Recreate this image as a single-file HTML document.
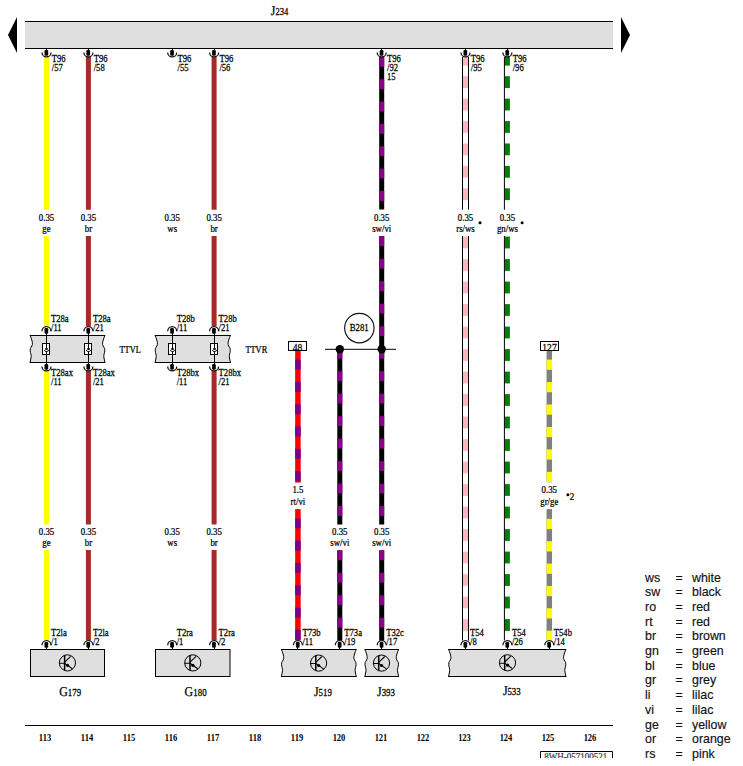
<!DOCTYPE html>
<html><head><meta charset="utf-8"><style>
html,body{margin:0;padding:0;background:#fff;width:743px;height:766px;overflow:hidden;}
svg{display:block;}
</style></head><body>
<svg width="743" height="766" viewBox="0 0 743 766">
<text transform="translate(270.7 15) scale(0.88 1)" x="0" y="0" font-family='"Liberation Serif", serif' font-size="13.3" text-anchor="start" font-weight="normal" fill="#000" stroke="#000" stroke-width="0.25" text-rendering="geometricPrecision">J</text>
<text transform="translate(275.4 15) scale(0.86 1)" x="0" y="0" font-family='"Liberation Serif", serif' font-size="10" text-anchor="start" font-weight="normal" fill="#000" stroke="#000" stroke-width="0.25" >234</text>
<rect x="25" y="21" width="588" height="28" fill="#dfdfdf"/>
<rect x="25" y="21" width="588" height="1" fill="#000"/>
<rect x="25" y="48" width="588" height="1" fill="#000"/>
<polygon points="17,17 17,53 8,35" fill="#000"/>
<polygon points="621,17 621,53 630,35" fill="#000"/>
<rect x="44.0" y="57" width="5" height="152.7" fill="#ffff00"/>
<rect x="44.0" y="236" width="5" height="90.5" fill="#ffff00"/>
<rect x="44.0" y="371" width="5" height="153.5" fill="#ffff00"/>
<rect x="44.0" y="550" width="5" height="90.5" fill="#ffff00"/>
<rect x="85.9" y="57" width="5" height="152.7" fill="#a52a2a"/>
<rect x="85.9" y="236" width="5" height="90.5" fill="#a52a2a"/>
<rect x="85.9" y="371" width="5" height="153.5" fill="#a52a2a"/>
<rect x="85.9" y="550" width="5" height="90.5" fill="#a52a2a"/>
<rect x="211.6" y="57" width="5" height="152.7" fill="#a52a2a"/>
<rect x="211.6" y="236" width="5" height="90.5" fill="#a52a2a"/>
<rect x="211.6" y="371" width="5" height="153.5" fill="#a52a2a"/>
<rect x="211.6" y="550" width="5" height="90.5" fill="#a52a2a"/>
<rect x="295.15" y="350.7" width="5.5" height="131.90000000000003" fill="#ff0000"/>
<rect x="295.15" y="359.60" width="5.5" height="10.00" fill="#78008a"/>
<rect x="295.15" y="381.90" width="5.5" height="10.00" fill="#78008a"/>
<rect x="295.15" y="404.20" width="5.5" height="10.00" fill="#78008a"/>
<rect x="295.15" y="426.50" width="5.5" height="10.00" fill="#78008a"/>
<rect x="295.15" y="448.80" width="5.5" height="10.00" fill="#78008a"/>
<rect x="295.15" y="471.10" width="5.5" height="10.00" fill="#78008a"/>
<rect x="295.15" y="509.1" width="5.5" height="131.39999999999998" fill="#ff0000"/>
<rect x="295.15" y="518.30" width="5.5" height="10.00" fill="#78008a"/>
<rect x="295.15" y="540.60" width="5.5" height="10.00" fill="#78008a"/>
<rect x="295.15" y="562.90" width="5.5" height="10.00" fill="#78008a"/>
<rect x="295.15" y="585.20" width="5.5" height="10.00" fill="#78008a"/>
<rect x="295.15" y="607.50" width="5.5" height="10.00" fill="#78008a"/>
<rect x="295.15" y="629.80" width="5.5" height="10.00" fill="#78008a"/>
<rect x="337.3" y="349" width="5" height="175.5" fill="#000"/>
<rect x="337.3" y="349.00" width="5" height="9.60" fill="#8b008b"/>
<rect x="337.3" y="371.18" width="5" height="9.90" fill="#8b008b"/>
<rect x="337.3" y="393.66" width="5" height="9.90" fill="#8b008b"/>
<rect x="337.3" y="416.14" width="5" height="9.90" fill="#8b008b"/>
<rect x="337.3" y="438.62" width="5" height="9.90" fill="#8b008b"/>
<rect x="337.3" y="461.10" width="5" height="9.90" fill="#8b008b"/>
<rect x="337.3" y="483.58" width="5" height="9.90" fill="#8b008b"/>
<rect x="337.3" y="506.06" width="5" height="9.90" fill="#8b008b"/>
<rect x="337.3" y="550.3" width="5" height="90.20000000000005" fill="#000"/>
<rect x="337.3" y="550.30" width="5" height="9.90" fill="#8b008b"/>
<rect x="337.3" y="572.78" width="5" height="9.90" fill="#8b008b"/>
<rect x="337.3" y="595.26" width="5" height="9.90" fill="#8b008b"/>
<rect x="337.3" y="617.74" width="5" height="9.90" fill="#8b008b"/>
<rect x="337.3" y="640.22" width="5" height="0.28" fill="#8b008b"/>
<rect x="379.2" y="57" width="5" height="152.5" fill="#000"/>
<rect x="379.2" y="57.00" width="5" height="9.80" fill="#8b008b"/>
<rect x="379.2" y="79.24" width="5" height="9.90" fill="#8b008b"/>
<rect x="379.2" y="101.58" width="5" height="9.90" fill="#8b008b"/>
<rect x="379.2" y="123.92" width="5" height="9.90" fill="#8b008b"/>
<rect x="379.2" y="146.26" width="5" height="9.90" fill="#8b008b"/>
<rect x="379.2" y="168.60" width="5" height="9.90" fill="#8b008b"/>
<rect x="379.2" y="190.94" width="5" height="9.90" fill="#8b008b"/>
<rect x="379.2" y="236.2" width="5" height="288.3" fill="#000"/>
<rect x="379.2" y="236.30" width="5" height="9.90" fill="#8b008b"/>
<rect x="379.2" y="258.78" width="5" height="9.90" fill="#8b008b"/>
<rect x="379.2" y="281.26" width="5" height="9.90" fill="#8b008b"/>
<rect x="379.2" y="303.74" width="5" height="9.90" fill="#8b008b"/>
<rect x="379.2" y="326.22" width="5" height="9.90" fill="#8b008b"/>
<rect x="379.2" y="348.70" width="5" height="9.90" fill="#8b008b"/>
<rect x="379.2" y="371.18" width="5" height="9.90" fill="#8b008b"/>
<rect x="379.2" y="393.66" width="5" height="9.90" fill="#8b008b"/>
<rect x="379.2" y="416.14" width="5" height="9.90" fill="#8b008b"/>
<rect x="379.2" y="438.62" width="5" height="9.90" fill="#8b008b"/>
<rect x="379.2" y="461.10" width="5" height="9.90" fill="#8b008b"/>
<rect x="379.2" y="483.58" width="5" height="9.90" fill="#8b008b"/>
<rect x="379.2" y="506.06" width="5" height="9.90" fill="#8b008b"/>
<rect x="379.2" y="550.3" width="5" height="90.20000000000005" fill="#000"/>
<rect x="379.2" y="550.30" width="5" height="9.90" fill="#8b008b"/>
<rect x="379.2" y="572.78" width="5" height="9.90" fill="#8b008b"/>
<rect x="379.2" y="595.26" width="5" height="9.90" fill="#8b008b"/>
<rect x="379.2" y="617.74" width="5" height="9.90" fill="#8b008b"/>
<rect x="379.2" y="640.22" width="5" height="0.28" fill="#8b008b"/>
<rect x="463.0" y="57.00" width="5" height="8.60" fill="#ffb6c1"/>
<rect x="463.0" y="76.22" width="5" height="11.80" fill="#ffb6c1"/>
<rect x="463.0" y="98.64" width="5" height="11.80" fill="#ffb6c1"/>
<rect x="463.0" y="121.06" width="5" height="11.80" fill="#ffb6c1"/>
<rect x="463.0" y="143.48" width="5" height="11.80" fill="#ffb6c1"/>
<rect x="463.0" y="165.90" width="5" height="11.80" fill="#ffb6c1"/>
<rect x="463.0" y="188.32" width="5" height="11.80" fill="#ffb6c1"/>
<rect x="463.0" y="236.60" width="5" height="11.80" fill="#ffb6c1"/>
<rect x="463.0" y="259.10" width="5" height="11.80" fill="#ffb6c1"/>
<rect x="463.0" y="281.60" width="5" height="11.80" fill="#ffb6c1"/>
<rect x="463.0" y="304.10" width="5" height="11.80" fill="#ffb6c1"/>
<rect x="463.0" y="326.60" width="5" height="11.80" fill="#ffb6c1"/>
<rect x="463.0" y="349.10" width="5" height="11.80" fill="#ffb6c1"/>
<rect x="463.0" y="371.60" width="5" height="11.80" fill="#ffb6c1"/>
<rect x="463.0" y="394.10" width="5" height="11.80" fill="#ffb6c1"/>
<rect x="463.0" y="416.60" width="5" height="11.80" fill="#ffb6c1"/>
<rect x="463.0" y="439.10" width="5" height="11.80" fill="#ffb6c1"/>
<rect x="463.0" y="461.60" width="5" height="11.80" fill="#ffb6c1"/>
<rect x="463.0" y="484.10" width="5" height="11.80" fill="#ffb6c1"/>
<rect x="463.0" y="506.60" width="5" height="11.80" fill="#ffb6c1"/>
<rect x="463.0" y="529.10" width="5" height="11.80" fill="#ffb6c1"/>
<rect x="463.0" y="551.60" width="5" height="11.80" fill="#ffb6c1"/>
<rect x="463.0" y="574.10" width="5" height="11.80" fill="#ffb6c1"/>
<rect x="463.0" y="596.60" width="5" height="11.80" fill="#ffb6c1"/>
<rect x="463.0" y="619.10" width="5" height="11.80" fill="#ffb6c1"/>
<rect x="462.0" y="57" width="1" height="152.7" fill="#000"/>
<rect x="468.0" y="57" width="1" height="152.7" fill="#000"/>
<rect x="462.0" y="236" width="1" height="404.5" fill="#000"/>
<rect x="468.0" y="236" width="1" height="404.5" fill="#000"/>
<rect x="504.9" y="57.00" width="5" height="8.60" fill="#008000"/>
<rect x="504.9" y="76.22" width="5" height="11.80" fill="#008000"/>
<rect x="504.9" y="98.64" width="5" height="11.80" fill="#008000"/>
<rect x="504.9" y="121.06" width="5" height="11.80" fill="#008000"/>
<rect x="504.9" y="143.48" width="5" height="11.80" fill="#008000"/>
<rect x="504.9" y="165.90" width="5" height="11.80" fill="#008000"/>
<rect x="504.9" y="188.32" width="5" height="11.80" fill="#008000"/>
<rect x="504.9" y="236.60" width="5" height="11.80" fill="#008000"/>
<rect x="504.9" y="259.10" width="5" height="11.80" fill="#008000"/>
<rect x="504.9" y="281.60" width="5" height="11.80" fill="#008000"/>
<rect x="504.9" y="304.10" width="5" height="11.80" fill="#008000"/>
<rect x="504.9" y="326.60" width="5" height="11.80" fill="#008000"/>
<rect x="504.9" y="349.10" width="5" height="11.80" fill="#008000"/>
<rect x="504.9" y="371.60" width="5" height="11.80" fill="#008000"/>
<rect x="504.9" y="394.10" width="5" height="11.80" fill="#008000"/>
<rect x="504.9" y="416.60" width="5" height="11.80" fill="#008000"/>
<rect x="504.9" y="439.10" width="5" height="11.80" fill="#008000"/>
<rect x="504.9" y="461.60" width="5" height="11.80" fill="#008000"/>
<rect x="504.9" y="484.10" width="5" height="11.80" fill="#008000"/>
<rect x="504.9" y="506.60" width="5" height="11.80" fill="#008000"/>
<rect x="504.9" y="529.10" width="5" height="11.80" fill="#008000"/>
<rect x="504.9" y="551.60" width="5" height="11.80" fill="#008000"/>
<rect x="504.9" y="574.10" width="5" height="11.80" fill="#008000"/>
<rect x="504.9" y="596.60" width="5" height="11.80" fill="#008000"/>
<rect x="504.9" y="619.10" width="5" height="11.80" fill="#008000"/>
<rect x="503.9" y="57" width="1" height="152.7" fill="#000"/>
<rect x="503.9" y="236" width="1" height="404.5" fill="#000"/>
<rect x="546.55" y="350.5" width="5.5" height="131.8" fill="#808080"/>
<rect x="546.55" y="359.60" width="5.5" height="10.20" fill="#ffff00"/>
<rect x="546.55" y="382.05" width="5.5" height="10.20" fill="#ffff00"/>
<rect x="546.55" y="404.50" width="5.5" height="10.20" fill="#ffff00"/>
<rect x="546.55" y="426.95" width="5.5" height="10.20" fill="#ffff00"/>
<rect x="546.55" y="449.40" width="5.5" height="10.20" fill="#ffff00"/>
<rect x="546.55" y="471.85" width="5.5" height="10.20" fill="#ffff00"/>
<rect x="546.55" y="509.1" width="5.5" height="131.39999999999998" fill="#808080"/>
<rect x="546.55" y="518.90" width="5.5" height="10.20" fill="#ffff00"/>
<rect x="546.55" y="541.25" width="5.5" height="10.20" fill="#ffff00"/>
<rect x="546.55" y="563.60" width="5.5" height="10.20" fill="#ffff00"/>
<rect x="546.55" y="585.95" width="5.5" height="10.20" fill="#ffff00"/>
<rect x="546.55" y="608.30" width="5.5" height="10.20" fill="#ffff00"/>
<rect x="546.55" y="630.65" width="5.5" height="9.85" fill="#ffff00"/>
<rect x="46" y="49" width="1" height="2" fill="#000"/>
<rect x="44.5" y="50" width="3.7" height="5.8" rx="1.2" fill="#000"/>
<path d="M42.0,52.4 A4.5,4.5 0 0 0 51.0,52.4" fill="none" stroke="#111" stroke-width="1.3"/>
<rect x="88" y="49" width="1" height="2" fill="#000"/>
<rect x="86.4" y="50" width="3.7" height="5.8" rx="1.2" fill="#000"/>
<path d="M83.9,52.4 A4.5,4.5 0 0 0 92.9,52.4" fill="none" stroke="#111" stroke-width="1.3"/>
<rect x="172" y="49" width="1" height="2" fill="#000"/>
<rect x="170.2" y="50" width="3.7" height="5.8" rx="1.2" fill="#000"/>
<path d="M167.7,52.4 A4.5,4.5 0 0 0 176.7,52.4" fill="none" stroke="#111" stroke-width="1.3"/>
<rect x="214" y="49" width="1" height="2" fill="#000"/>
<rect x="212.1" y="50" width="3.7" height="5.8" rx="1.2" fill="#000"/>
<path d="M209.6,52.4 A4.5,4.5 0 0 0 218.6,52.4" fill="none" stroke="#111" stroke-width="1.3"/>
<rect x="381" y="49" width="1" height="2" fill="#000"/>
<rect x="379.7" y="50" width="3.7" height="5.8" rx="1.2" fill="#000"/>
<path d="M377.2,52.4 A4.5,4.5 0 0 0 386.2,52.4" fill="none" stroke="#111" stroke-width="1.3"/>
<rect x="465" y="49" width="1" height="2" fill="#000"/>
<rect x="463.5" y="50" width="3.7" height="5.8" rx="1.2" fill="#000"/>
<path d="M461.0,52.4 A4.5,4.5 0 0 0 470.0,52.4" fill="none" stroke="#111" stroke-width="1.3"/>
<rect x="507" y="49" width="1" height="2" fill="#000"/>
<rect x="505.4" y="50" width="3.7" height="5.8" rx="1.2" fill="#000"/>
<path d="M502.9,52.4 A4.5,4.5 0 0 0 511.9,52.4" fill="none" stroke="#111" stroke-width="1.3"/>
<text transform="translate(51.8 62.0) scale(0.82 1)" x="0" y="0" font-family='"Liberation Serif", serif' font-size="10.5" text-anchor="start" font-weight="normal" fill="#000" stroke="#000" stroke-width="0.25" >T96</text>
<text transform="translate(51.8 70.8) scale(0.82 1)" x="0" y="0" font-family='"Liberation Serif", serif' font-size="10.5" text-anchor="start" font-weight="normal" fill="#000" stroke="#000" stroke-width="0.25" >/57</text>
<text transform="translate(93.7 62.0) scale(0.82 1)" x="0" y="0" font-family='"Liberation Serif", serif' font-size="10.5" text-anchor="start" font-weight="normal" fill="#000" stroke="#000" stroke-width="0.25" >T96</text>
<text transform="translate(93.7 70.8) scale(0.82 1)" x="0" y="0" font-family='"Liberation Serif", serif' font-size="10.5" text-anchor="start" font-weight="normal" fill="#000" stroke="#000" stroke-width="0.25" >/58</text>
<text transform="translate(177.5 62.0) scale(0.82 1)" x="0" y="0" font-family='"Liberation Serif", serif' font-size="10.5" text-anchor="start" font-weight="normal" fill="#000" stroke="#000" stroke-width="0.25" >T96</text>
<text transform="translate(177.5 70.8) scale(0.82 1)" x="0" y="0" font-family='"Liberation Serif", serif' font-size="10.5" text-anchor="start" font-weight="normal" fill="#000" stroke="#000" stroke-width="0.25" >/55</text>
<text transform="translate(219.4 62.0) scale(0.82 1)" x="0" y="0" font-family='"Liberation Serif", serif' font-size="10.5" text-anchor="start" font-weight="normal" fill="#000" stroke="#000" stroke-width="0.25" >T96</text>
<text transform="translate(219.4 70.8) scale(0.82 1)" x="0" y="0" font-family='"Liberation Serif", serif' font-size="10.5" text-anchor="start" font-weight="normal" fill="#000" stroke="#000" stroke-width="0.25" >/56</text>
<text transform="translate(387.0 62.0) scale(0.82 1)" x="0" y="0" font-family='"Liberation Serif", serif' font-size="10.5" text-anchor="start" font-weight="normal" fill="#000" stroke="#000" stroke-width="0.25" >T96</text>
<text transform="translate(387.0 70.8) scale(0.82 1)" x="0" y="0" font-family='"Liberation Serif", serif' font-size="10.5" text-anchor="start" font-weight="normal" fill="#000" stroke="#000" stroke-width="0.25" >/92</text>
<text transform="translate(387.0 79.6) scale(0.82 1)" x="0" y="0" font-family='"Liberation Serif", serif' font-size="10.5" text-anchor="start" font-weight="normal" fill="#000" stroke="#000" stroke-width="0.25" >15</text>
<text transform="translate(470.8 62.0) scale(0.82 1)" x="0" y="0" font-family='"Liberation Serif", serif' font-size="10.5" text-anchor="start" font-weight="normal" fill="#000" stroke="#000" stroke-width="0.25" >T96</text>
<text transform="translate(470.8 70.8) scale(0.82 1)" x="0" y="0" font-family='"Liberation Serif", serif' font-size="10.5" text-anchor="start" font-weight="normal" fill="#000" stroke="#000" stroke-width="0.25" >/95</text>
<text transform="translate(512.6999999999999 62.0) scale(0.82 1)" x="0" y="0" font-family='"Liberation Serif", serif' font-size="10.5" text-anchor="start" font-weight="normal" fill="#000" stroke="#000" stroke-width="0.25" >T96</text>
<text transform="translate(512.6999999999999 70.8) scale(0.82 1)" x="0" y="0" font-family='"Liberation Serif", serif' font-size="10.5" text-anchor="start" font-weight="normal" fill="#000" stroke="#000" stroke-width="0.25" >/96</text>
<text transform="translate(46.5 220.8) scale(0.88 1)" x="0" y="0" font-family='"Liberation Serif", serif' font-size="10" text-anchor="middle" font-weight="normal" fill="#000" stroke="#000" stroke-width="0.25" >0.35</text>
<text transform="translate(46.5 231.8) scale(0.88 1)" x="0" y="0" font-family='"Liberation Serif", serif' font-size="10" text-anchor="middle" font-weight="normal" fill="#000" stroke="#000" stroke-width="0.25" >ge</text>
<text transform="translate(88.4 220.8) scale(0.88 1)" x="0" y="0" font-family='"Liberation Serif", serif' font-size="10" text-anchor="middle" font-weight="normal" fill="#000" stroke="#000" stroke-width="0.25" >0.35</text>
<text transform="translate(88.4 231.8) scale(0.88 1)" x="0" y="0" font-family='"Liberation Serif", serif' font-size="10" text-anchor="middle" font-weight="normal" fill="#000" stroke="#000" stroke-width="0.25" >br</text>
<text transform="translate(172.2 220.8) scale(0.88 1)" x="0" y="0" font-family='"Liberation Serif", serif' font-size="10" text-anchor="middle" font-weight="normal" fill="#000" stroke="#000" stroke-width="0.25" >0.35</text>
<text transform="translate(172.2 231.8) scale(0.88 1)" x="0" y="0" font-family='"Liberation Serif", serif' font-size="10" text-anchor="middle" font-weight="normal" fill="#000" stroke="#000" stroke-width="0.25" >ws</text>
<text transform="translate(214.1 220.8) scale(0.88 1)" x="0" y="0" font-family='"Liberation Serif", serif' font-size="10" text-anchor="middle" font-weight="normal" fill="#000" stroke="#000" stroke-width="0.25" >0.35</text>
<text transform="translate(214.1 231.8) scale(0.88 1)" x="0" y="0" font-family='"Liberation Serif", serif' font-size="10" text-anchor="middle" font-weight="normal" fill="#000" stroke="#000" stroke-width="0.25" >br</text>
<text transform="translate(381.7 220.8) scale(0.88 1)" x="0" y="0" font-family='"Liberation Serif", serif' font-size="10" text-anchor="middle" font-weight="normal" fill="#000" stroke="#000" stroke-width="0.25" >0.35</text>
<text transform="translate(381.7 231.8) scale(0.88 1)" x="0" y="0" font-family='"Liberation Serif", serif' font-size="10" text-anchor="middle" font-weight="normal" fill="#000" stroke="#000" stroke-width="0.25" >sw/vi</text>
<text transform="translate(465.5 220.8) scale(0.88 1)" x="0" y="0" font-family='"Liberation Serif", serif' font-size="10" text-anchor="middle" font-weight="normal" fill="#000" stroke="#000" stroke-width="0.25" >0.35</text>
<text transform="translate(465.5 231.8) scale(0.88 1)" x="0" y="0" font-family='"Liberation Serif", serif' font-size="10" text-anchor="middle" font-weight="normal" fill="#000" stroke="#000" stroke-width="0.25" >rs/ws</text>
<text transform="translate(507.4 220.8) scale(0.88 1)" x="0" y="0" font-family='"Liberation Serif", serif' font-size="10" text-anchor="middle" font-weight="normal" fill="#000" stroke="#000" stroke-width="0.25" >0.35</text>
<text transform="translate(507.4 231.8) scale(0.88 1)" x="0" y="0" font-family='"Liberation Serif", serif' font-size="10" text-anchor="middle" font-weight="normal" fill="#000" stroke="#000" stroke-width="0.25" >gn/ws</text>
<text transform="translate(46.5 534.7) scale(0.88 1)" x="0" y="0" font-family='"Liberation Serif", serif' font-size="10" text-anchor="middle" font-weight="normal" fill="#000" stroke="#000" stroke-width="0.25" >0.35</text>
<text transform="translate(46.5 545.7) scale(0.88 1)" x="0" y="0" font-family='"Liberation Serif", serif' font-size="10" text-anchor="middle" font-weight="normal" fill="#000" stroke="#000" stroke-width="0.25" >ge</text>
<text transform="translate(88.4 534.7) scale(0.88 1)" x="0" y="0" font-family='"Liberation Serif", serif' font-size="10" text-anchor="middle" font-weight="normal" fill="#000" stroke="#000" stroke-width="0.25" >0.35</text>
<text transform="translate(88.4 545.7) scale(0.88 1)" x="0" y="0" font-family='"Liberation Serif", serif' font-size="10" text-anchor="middle" font-weight="normal" fill="#000" stroke="#000" stroke-width="0.25" >br</text>
<text transform="translate(172.2 534.7) scale(0.88 1)" x="0" y="0" font-family='"Liberation Serif", serif' font-size="10" text-anchor="middle" font-weight="normal" fill="#000" stroke="#000" stroke-width="0.25" >0.35</text>
<text transform="translate(172.2 545.7) scale(0.88 1)" x="0" y="0" font-family='"Liberation Serif", serif' font-size="10" text-anchor="middle" font-weight="normal" fill="#000" stroke="#000" stroke-width="0.25" >ws</text>
<text transform="translate(214.1 534.7) scale(0.88 1)" x="0" y="0" font-family='"Liberation Serif", serif' font-size="10" text-anchor="middle" font-weight="normal" fill="#000" stroke="#000" stroke-width="0.25" >0.35</text>
<text transform="translate(214.1 545.7) scale(0.88 1)" x="0" y="0" font-family='"Liberation Serif", serif' font-size="10" text-anchor="middle" font-weight="normal" fill="#000" stroke="#000" stroke-width="0.25" >br</text>
<text transform="translate(339.8 534.7) scale(0.88 1)" x="0" y="0" font-family='"Liberation Serif", serif' font-size="10" text-anchor="middle" font-weight="normal" fill="#000" stroke="#000" stroke-width="0.25" >0.35</text>
<text transform="translate(339.8 545.7) scale(0.88 1)" x="0" y="0" font-family='"Liberation Serif", serif' font-size="10" text-anchor="middle" font-weight="normal" fill="#000" stroke="#000" stroke-width="0.25" >sw/vi</text>
<text transform="translate(381.7 534.7) scale(0.88 1)" x="0" y="0" font-family='"Liberation Serif", serif' font-size="10" text-anchor="middle" font-weight="normal" fill="#000" stroke="#000" stroke-width="0.25" >0.35</text>
<text transform="translate(381.7 545.7) scale(0.88 1)" x="0" y="0" font-family='"Liberation Serif", serif' font-size="10" text-anchor="middle" font-weight="normal" fill="#000" stroke="#000" stroke-width="0.25" >sw/vi</text>
<text transform="translate(297.9 492.7) scale(0.88 1)" x="0" y="0" font-family='"Liberation Serif", serif' font-size="10" text-anchor="middle" font-weight="normal" fill="#000" stroke="#000" stroke-width="0.25" >1.5</text>
<text transform="translate(297.9 505.0) scale(0.88 1)" x="0" y="0" font-family='"Liberation Serif", serif' font-size="10" text-anchor="middle" font-weight="normal" fill="#000" stroke="#000" stroke-width="0.25" >rt/vi</text>
<text transform="translate(549.3 492.6) scale(0.88 1)" x="0" y="0" font-family='"Liberation Serif", serif' font-size="10" text-anchor="middle" font-weight="normal" fill="#000" stroke="#000" stroke-width="0.25" >0.35</text>
<text transform="translate(549.3 505.0) scale(0.88 1)" x="0" y="0" font-family='"Liberation Serif", serif' font-size="10" text-anchor="middle" font-weight="normal" fill="#000" stroke="#000" stroke-width="0.25" >gr/ge</text>
<circle cx="480.0" cy="222.8" r="1.5" fill="#000"/>
<circle cx="522.1" cy="222.8" r="1.5" fill="#000"/>
<circle cx="567.9" cy="494.8" r="1.5" fill="#000"/>
<text transform="translate(569.8 499.6) scale(0.9 1)" x="0" y="0" font-family='"Liberation Serif", serif' font-size="10" text-anchor="start" font-weight="normal" fill="#000" stroke="#000" stroke-width="0.25" >2</text>
<path d="M30,335 C31.2,338.36 32.8,342.0 32.4,344.52 C32.0,346.76 30.0,347.6 30.2,350.4 C30.4,353.2 31.4,354.6 31.2,356.84 C31.0,359.08 30.2,361.04 30,363 L105,363 C104.8,361.04 104.0,359.08 103.8,356.84 C103.6,354.6 104.6,353.2 104.8,350.4 C105.0,347.6 103.0,346.76 102.6,344.52 C102.2,342.0 103.8,338.36 105,335 Z" fill="#dfdfdf" stroke="none"/>
<path d="M30,335 C31.2,338.36 32.8,342.0 32.4,344.52 C32.0,346.76 30.0,347.6 30.2,350.4 C30.4,353.2 31.4,354.6 31.2,356.84 C31.0,359.08 30.2,361.04 30,363" fill="none" stroke="#000" stroke-width="1"/>
<path d="M105,363 C104.8,361.04 104.0,359.08 103.8,356.84 C103.6,354.6 104.6,353.2 104.8,350.4 C105.0,347.6 103.0,346.76 102.6,344.52 C102.2,342.0 103.8,338.36 105,335" fill="none" stroke="#000" stroke-width="1"/>
<rect x="30" y="335" width="75" height="1" fill="#000"/>
<rect x="30" y="362" width="75" height="1" fill="#000"/>
<path d="M155,335 C156.2,338.36 157.8,342.0 157.4,344.52 C157.0,346.76 155.0,347.6 155.2,350.4 C155.4,353.2 156.4,354.6 156.2,356.84 C156.0,359.08 155.2,361.04 155,363 L230.5,363 C230.3,361.04 229.5,359.08 229.3,356.84 C229.1,354.6 230.1,353.2 230.3,350.4 C230.5,347.6 228.5,346.76 228.1,344.52 C227.7,342.0 229.3,338.36 230.5,335 Z" fill="#dfdfdf" stroke="none"/>
<path d="M155,335 C156.2,338.36 157.8,342.0 157.4,344.52 C157.0,346.76 155.0,347.6 155.2,350.4 C155.4,353.2 156.4,354.6 156.2,356.84 C156.0,359.08 155.2,361.04 155,363" fill="none" stroke="#000" stroke-width="1"/>
<path d="M230.5,363 C230.3,361.04 229.5,359.08 229.3,356.84 C229.1,354.6 230.1,353.2 230.3,350.4 C230.5,347.6 228.5,346.76 228.1,344.52 C227.7,342.0 229.3,338.36 230.5,335" fill="none" stroke="#000" stroke-width="1"/>
<rect x="155" y="335" width="75.5" height="1" fill="#000"/>
<rect x="155" y="362" width="75.5" height="1" fill="#000"/>
<rect x="42.5" y="343.5" width="7" height="11" fill="#fff" stroke="#000" stroke-width="1"/>
<rect x="46" y="333" width="1" height="15.600000000000023" fill="#000"/>
<ellipse cx="46.5" cy="349" rx="1.5" ry="1.1" fill="#000"/>
<path d="M44.4,349.9 A2.1,1.7 0 0 0 48.6,349.9" fill="none" stroke="#000" stroke-width="0.9"/>
<rect x="46" y="351.4" width="1" height="13.600000000000023" fill="#000"/>
<rect x="46" y="333" width="1" height="2" fill="#000"/>
<rect x="44.5" y="328.1" width="3.7" height="5.7" rx="1.2" fill="#000"/>
<path d="M42.0,331.2 A4.5,4.5 0 0 1 51.0,331.2" fill="none" stroke="#111" stroke-width="1.3"/>
<rect x="46" y="363" width="1" height="2" fill="#000"/>
<rect x="44.5" y="364" width="3.7" height="5.8" rx="1.2" fill="#000"/>
<path d="M42.0,366.4 A4.5,4.5 0 0 0 51.0,366.4" fill="none" stroke="#111" stroke-width="1.3"/>
<rect x="84.5" y="343.5" width="7" height="11" fill="#fff" stroke="#000" stroke-width="1"/>
<rect x="88" y="333" width="1" height="15.600000000000023" fill="#000"/>
<ellipse cx="88.5" cy="349" rx="1.5" ry="1.1" fill="#000"/>
<path d="M86.4,349.9 A2.1,1.7 0 0 0 90.6,349.9" fill="none" stroke="#000" stroke-width="0.9"/>
<rect x="88" y="351.4" width="1" height="13.600000000000023" fill="#000"/>
<rect x="88" y="333" width="1" height="2" fill="#000"/>
<rect x="86.4" y="328.1" width="3.7" height="5.7" rx="1.2" fill="#000"/>
<path d="M83.9,331.2 A4.5,4.5 0 0 1 92.9,331.2" fill="none" stroke="#111" stroke-width="1.3"/>
<rect x="88" y="363" width="1" height="2" fill="#000"/>
<rect x="86.4" y="364" width="3.7" height="5.8" rx="1.2" fill="#000"/>
<path d="M83.9,366.4 A4.5,4.5 0 0 0 92.9,366.4" fill="none" stroke="#111" stroke-width="1.3"/>
<rect x="168.5" y="343.5" width="7" height="11" fill="#fff" stroke="#000" stroke-width="1"/>
<rect x="172" y="333" width="1" height="15.600000000000023" fill="#000"/>
<ellipse cx="172.5" cy="349" rx="1.5" ry="1.1" fill="#000"/>
<path d="M170.4,349.9 A2.1,1.7 0 0 0 174.6,349.9" fill="none" stroke="#000" stroke-width="0.9"/>
<rect x="172" y="351.4" width="1" height="13.600000000000023" fill="#000"/>
<rect x="172" y="333" width="1" height="2" fill="#000"/>
<rect x="170.2" y="328.1" width="3.7" height="5.7" rx="1.2" fill="#000"/>
<path d="M167.7,331.2 A4.5,4.5 0 0 1 176.7,331.2" fill="none" stroke="#111" stroke-width="1.3"/>
<rect x="172" y="363" width="1" height="2" fill="#000"/>
<rect x="170.2" y="364" width="3.7" height="5.8" rx="1.2" fill="#000"/>
<path d="M167.7,366.4 A4.5,4.5 0 0 0 176.7,366.4" fill="none" stroke="#111" stroke-width="1.3"/>
<rect x="210.5" y="343.5" width="7" height="11" fill="#fff" stroke="#000" stroke-width="1"/>
<rect x="214" y="333" width="1" height="15.600000000000023" fill="#000"/>
<ellipse cx="214.5" cy="349" rx="1.5" ry="1.1" fill="#000"/>
<path d="M212.4,349.9 A2.1,1.7 0 0 0 216.6,349.9" fill="none" stroke="#000" stroke-width="0.9"/>
<rect x="214" y="351.4" width="1" height="13.600000000000023" fill="#000"/>
<rect x="214" y="333" width="1" height="2" fill="#000"/>
<rect x="212.1" y="328.1" width="3.7" height="5.7" rx="1.2" fill="#000"/>
<path d="M209.6,331.2 A4.5,4.5 0 0 1 218.6,331.2" fill="none" stroke="#111" stroke-width="1.3"/>
<rect x="214" y="363" width="1" height="2" fill="#000"/>
<rect x="212.1" y="364" width="3.7" height="5.8" rx="1.2" fill="#000"/>
<path d="M209.6,366.4 A4.5,4.5 0 0 0 218.6,366.4" fill="none" stroke="#111" stroke-width="1.3"/>
<text transform="translate(119.5 353) scale(0.88 1)" x="0" y="0" font-family='"Liberation Serif", serif' font-size="9.5" text-anchor="start" font-weight="normal" fill="#000" stroke="#000" stroke-width="0.25" >TTVL</text>
<text transform="translate(245.4 353) scale(0.88 1)" x="0" y="0" font-family='"Liberation Serif", serif' font-size="9.5" text-anchor="start" font-weight="normal" fill="#000" stroke="#000" stroke-width="0.25" >TTVR</text>
<text transform="translate(51.0 321.5) scale(0.82 1)" x="0" y="0" font-family='"Liberation Serif", serif' font-size="10.5" text-anchor="start" font-weight="normal" fill="#000" stroke="#000" stroke-width="0.25" >T28a</text>
<text transform="translate(51.0 330.8) scale(0.82 1)" x="0" y="0" font-family='"Liberation Serif", serif' font-size="10.5" text-anchor="start" font-weight="normal" fill="#000" stroke="#000" stroke-width="0.25" >/11</text>
<text transform="translate(92.9 321.5) scale(0.82 1)" x="0" y="0" font-family='"Liberation Serif", serif' font-size="10.5" text-anchor="start" font-weight="normal" fill="#000" stroke="#000" stroke-width="0.25" >T28a</text>
<text transform="translate(92.9 330.8) scale(0.82 1)" x="0" y="0" font-family='"Liberation Serif", serif' font-size="10.5" text-anchor="start" font-weight="normal" fill="#000" stroke="#000" stroke-width="0.25" >/21</text>
<text transform="translate(176.7 321.5) scale(0.82 1)" x="0" y="0" font-family='"Liberation Serif", serif' font-size="10.5" text-anchor="start" font-weight="normal" fill="#000" stroke="#000" stroke-width="0.25" >T28b</text>
<text transform="translate(176.7 330.8) scale(0.82 1)" x="0" y="0" font-family='"Liberation Serif", serif' font-size="10.5" text-anchor="start" font-weight="normal" fill="#000" stroke="#000" stroke-width="0.25" >/11</text>
<text transform="translate(218.6 321.5) scale(0.82 1)" x="0" y="0" font-family='"Liberation Serif", serif' font-size="10.5" text-anchor="start" font-weight="normal" fill="#000" stroke="#000" stroke-width="0.25" >T28b</text>
<text transform="translate(218.6 330.8) scale(0.82 1)" x="0" y="0" font-family='"Liberation Serif", serif' font-size="10.5" text-anchor="start" font-weight="normal" fill="#000" stroke="#000" stroke-width="0.25" >/21</text>
<text transform="translate(51.0 375.6) scale(0.82 1)" x="0" y="0" font-family='"Liberation Serif", serif' font-size="10.5" text-anchor="start" font-weight="normal" fill="#000" stroke="#000" stroke-width="0.25" >T28ax</text>
<text transform="translate(51.0 384.6) scale(0.82 1)" x="0" y="0" font-family='"Liberation Serif", serif' font-size="10.5" text-anchor="start" font-weight="normal" fill="#000" stroke="#000" stroke-width="0.25" >/11</text>
<text transform="translate(92.9 375.6) scale(0.82 1)" x="0" y="0" font-family='"Liberation Serif", serif' font-size="10.5" text-anchor="start" font-weight="normal" fill="#000" stroke="#000" stroke-width="0.25" >T28ax</text>
<text transform="translate(92.9 384.6) scale(0.82 1)" x="0" y="0" font-family='"Liberation Serif", serif' font-size="10.5" text-anchor="start" font-weight="normal" fill="#000" stroke="#000" stroke-width="0.25" >/21</text>
<text transform="translate(176.7 375.6) scale(0.82 1)" x="0" y="0" font-family='"Liberation Serif", serif' font-size="10.5" text-anchor="start" font-weight="normal" fill="#000" stroke="#000" stroke-width="0.25" >T28bx</text>
<text transform="translate(176.7 384.6) scale(0.82 1)" x="0" y="0" font-family='"Liberation Serif", serif' font-size="10.5" text-anchor="start" font-weight="normal" fill="#000" stroke="#000" stroke-width="0.25" >/11</text>
<text transform="translate(218.6 375.6) scale(0.82 1)" x="0" y="0" font-family='"Liberation Serif", serif' font-size="10.5" text-anchor="start" font-weight="normal" fill="#000" stroke="#000" stroke-width="0.25" >T28bx</text>
<text transform="translate(218.6 384.6) scale(0.82 1)" x="0" y="0" font-family='"Liberation Serif", serif' font-size="10.5" text-anchor="start" font-weight="normal" fill="#000" stroke="#000" stroke-width="0.25" >/21</text>
<rect x="288.5" y="341.5" width="18" height="9" fill="#fff" stroke="#000" stroke-width="1"/>
<svg x="289" y="342" width="17" height="8" overflow="hidden"><text transform="translate(8.5 8.899999999999977) scale(0.87 1)" font-family='"Liberation Serif", serif' font-size="11" text-anchor="middle" stroke="#000" stroke-width="0.25">48</text></svg>
<rect x="540.5" y="341.5" width="18" height="9" fill="#fff" stroke="#000" stroke-width="1"/>
<svg x="541" y="342" width="17" height="8" overflow="hidden"><text transform="translate(8.5 8.899999999999977) scale(0.87 1)" font-family='"Liberation Serif", serif' font-size="11" text-anchor="middle" stroke="#000" stroke-width="0.25">127</text></svg>
<rect x="325" y="348.8" width="71" height="1" fill="#000"/>
<circle cx="339.8" cy="349.3" r="4.2" fill="#000"/>
<circle cx="381.7" cy="349.3" r="4.2" fill="#000"/>
<circle cx="359.35" cy="328.1" r="14.7" fill="#fff" stroke="#111" stroke-width="1.15"/>
<text transform="translate(359.2 330.9) scale(0.84 1)" x="0" y="0" font-family='"Liberation Serif", serif' font-size="10.5" text-anchor="middle" font-weight="normal" fill="#000" stroke="#000" stroke-width="0.25" >B281</text>
<rect x="30.5" y="649.5" width="74" height="27" fill="#dfdfdf" stroke="#000" stroke-width="1"/>
<rect x="155.5" y="649.5" width="74.5" height="27" fill="#dfdfdf" stroke="#000" stroke-width="1"/>
<path d="M281.3,649 C282.5,652.36 284.1,656.0 283.7,658.52 C283.3,660.76 281.3,661.6 281.5,664.4 C281.7,667.2 282.7,668.6 282.5,670.84 C282.3,673.08 281.5,675.04 281.3,677 L356.3,677 C356.1,675.04 355.3,673.08 355.1,670.84 C354.90000000000003,668.6 355.90000000000003,667.2 356.1,664.4 C356.3,661.6 354.3,660.76 353.90000000000003,658.52 C353.5,656.0 355.1,652.36 356.3,649 Z" fill="#dfdfdf" stroke="none"/>
<path d="M281.3,649 C282.5,652.36 284.1,656.0 283.7,658.52 C283.3,660.76 281.3,661.6 281.5,664.4 C281.7,667.2 282.7,668.6 282.5,670.84 C282.3,673.08 281.5,675.04 281.3,677" fill="none" stroke="#000" stroke-width="1"/>
<path d="M356.3,677 C356.1,675.04 355.3,673.08 355.1,670.84 C354.90000000000003,668.6 355.90000000000003,667.2 356.1,664.4 C356.3,661.6 354.3,660.76 353.90000000000003,658.52 C353.5,656.0 355.1,652.36 356.3,649" fill="none" stroke="#000" stroke-width="1"/>
<rect x="281.3" y="649" width="75.0" height="1" fill="#000"/>
<rect x="281.3" y="676" width="75.0" height="1" fill="#000"/>
<path d="M364.8,649 C366.0,652.36 367.6,656.0 367.2,658.52 C366.8,660.76 364.8,661.6 365.0,664.4 C365.2,667.2 366.2,668.6 366.0,670.84 C365.8,673.08 365.0,675.04 364.8,677 L398.7,677 C398.5,675.04 397.7,673.08 397.5,670.84 C397.3,668.6 398.3,667.2 398.5,664.4 C398.7,661.6 396.7,660.76 396.3,658.52 C395.9,656.0 397.5,652.36 398.7,649 Z" fill="#dfdfdf" stroke="none"/>
<path d="M364.8,649 C366.0,652.36 367.6,656.0 367.2,658.52 C366.8,660.76 364.8,661.6 365.0,664.4 C365.2,667.2 366.2,668.6 366.0,670.84 C365.8,673.08 365.0,675.04 364.8,677" fill="none" stroke="#000" stroke-width="1"/>
<path d="M398.7,677 C398.5,675.04 397.7,673.08 397.5,670.84 C397.3,668.6 398.3,667.2 398.5,664.4 C398.7,661.6 396.7,660.76 396.3,658.52 C395.9,656.0 397.5,652.36 398.7,649" fill="none" stroke="#000" stroke-width="1"/>
<rect x="364.8" y="649" width="33.89999999999998" height="1" fill="#000"/>
<rect x="364.8" y="676" width="33.89999999999998" height="1" fill="#000"/>
<path d="M448.5,649 C449.7,652.36 451.3,656.0 450.9,658.52 C450.5,660.76 448.5,661.6 448.7,664.4 C448.9,667.2 449.9,668.6 449.7,670.84 C449.5,673.08 448.7,675.04 448.5,677 L566,677 C565.8,675.04 565.0,673.08 564.8,670.84 C564.6,668.6 565.6,667.2 565.8,664.4 C566.0,661.6 564.0,660.76 563.6,658.52 C563.2,656.0 564.8,652.36 566,649 Z" fill="#dfdfdf" stroke="none"/>
<path d="M448.5,649 C449.7,652.36 451.3,656.0 450.9,658.52 C450.5,660.76 448.5,661.6 448.7,664.4 C448.9,667.2 449.9,668.6 449.7,670.84 C449.5,673.08 448.7,675.04 448.5,677" fill="none" stroke="#000" stroke-width="1"/>
<path d="M566,677 C565.8,675.04 565.0,673.08 564.8,670.84 C564.6,668.6 565.6,667.2 565.8,664.4 C566.0,661.6 564.0,660.76 563.6,658.52 C563.2,656.0 564.8,652.36 566,649" fill="none" stroke="#000" stroke-width="1"/>
<rect x="448.5" y="649" width="117.5" height="1" fill="#000"/>
<rect x="448.5" y="676" width="117.5" height="1" fill="#000"/>
<circle cx="67.4" cy="662.9" r="8.1" fill="none" stroke="#000" stroke-width="1"/>
<path d="M59.300000000000004,663.3 L64.60000000000001,663.3 M64.60000000000001,662.1 L70.7,656.3 M64.60000000000001,663.1999999999999 L72.30000000000001,668.6999999999999" fill="none" stroke="#000" stroke-width="1.1"/>
<path d="M64.60000000000001,655.3 L64.60000000000001,670.1999999999999" fill="none" stroke="#000" stroke-width="1.5"/>
<circle cx="67.5" cy="665.3" r="1.6" fill="#000"/>
<circle cx="192.8" cy="662.9" r="8.1" fill="none" stroke="#000" stroke-width="1"/>
<path d="M184.70000000000002,663.3 L190.0,663.3 M190.0,662.1 L196.10000000000002,656.3 M190.0,663.1999999999999 L197.70000000000002,668.6999999999999" fill="none" stroke="#000" stroke-width="1.1"/>
<path d="M190.0,655.3 L190.0,670.1999999999999" fill="none" stroke="#000" stroke-width="1.5"/>
<circle cx="192.9" cy="665.3" r="1.6" fill="#000"/>
<circle cx="318.6" cy="663.1" r="8.1" fill="none" stroke="#000" stroke-width="1"/>
<path d="M310.5,663.5 L315.8,663.5 M315.8,662.3000000000001 L321.90000000000003,656.5 M315.8,663.4 L323.5,668.9" fill="none" stroke="#000" stroke-width="1.1"/>
<path d="M315.8,655.5 L315.8,670.4" fill="none" stroke="#000" stroke-width="1.5"/>
<circle cx="318.70000000000005" cy="665.5" r="1.6" fill="#000"/>
<circle cx="381.5" cy="663.1" r="8.1" fill="none" stroke="#000" stroke-width="1"/>
<path d="M373.4,663.5 L378.7,663.5 M378.7,662.3000000000001 L384.8,656.5 M378.7,663.4 L386.4,668.9" fill="none" stroke="#000" stroke-width="1.1"/>
<path d="M378.7,655.5 L378.7,670.4" fill="none" stroke="#000" stroke-width="1.5"/>
<circle cx="381.6" cy="665.5" r="1.6" fill="#000"/>
<circle cx="507.5" cy="662.8" r="8.1" fill="none" stroke="#000" stroke-width="1"/>
<path d="M499.4,663.1999999999999 L504.7,663.1999999999999 M504.7,662.0 L510.8,656.1999999999999 M504.7,663.0999999999999 L512.4,668.5999999999999" fill="none" stroke="#000" stroke-width="1.1"/>
<path d="M504.7,655.1999999999999 L504.7,670.0999999999999" fill="none" stroke="#000" stroke-width="1.5"/>
<circle cx="507.6" cy="665.1999999999999" r="1.6" fill="#000"/>
<rect x="46" y="647" width="1" height="2" fill="#000"/>
<rect x="44.5" y="642.1" width="3.7" height="5.7" rx="1.2" fill="#000"/>
<path d="M42.0,645.2 A4.5,4.5 0 0 1 51.0,645.2" fill="none" stroke="#111" stroke-width="1.3"/>
<rect x="88" y="647" width="1" height="2" fill="#000"/>
<rect x="86.4" y="642.1" width="3.7" height="5.7" rx="1.2" fill="#000"/>
<path d="M83.9,645.2 A4.5,4.5 0 0 1 92.9,645.2" fill="none" stroke="#111" stroke-width="1.3"/>
<rect x="172" y="647" width="1" height="2" fill="#000"/>
<rect x="170.2" y="642.1" width="3.7" height="5.7" rx="1.2" fill="#000"/>
<path d="M167.7,645.2 A4.5,4.5 0 0 1 176.7,645.2" fill="none" stroke="#111" stroke-width="1.3"/>
<rect x="214" y="647" width="1" height="2" fill="#000"/>
<rect x="212.1" y="642.1" width="3.7" height="5.7" rx="1.2" fill="#000"/>
<path d="M209.6,645.2 A4.5,4.5 0 0 1 218.6,645.2" fill="none" stroke="#111" stroke-width="1.3"/>
<rect x="297" y="647" width="1" height="2" fill="#000"/>
<rect x="295.9" y="642.1" width="3.7" height="5.7" rx="1.2" fill="#000"/>
<path d="M293.4,645.2 A4.5,4.5 0 0 1 302.4,645.2" fill="none" stroke="#111" stroke-width="1.3"/>
<rect x="339" y="647" width="1" height="2" fill="#000"/>
<rect x="337.8" y="642.1" width="3.7" height="5.7" rx="1.2" fill="#000"/>
<path d="M335.3,645.2 A4.5,4.5 0 0 1 344.3,645.2" fill="none" stroke="#111" stroke-width="1.3"/>
<rect x="381" y="647" width="1" height="2" fill="#000"/>
<rect x="379.7" y="642.1" width="3.7" height="5.7" rx="1.2" fill="#000"/>
<path d="M377.2,645.2 A4.5,4.5 0 0 1 386.2,645.2" fill="none" stroke="#111" stroke-width="1.3"/>
<rect x="465" y="647" width="1" height="2" fill="#000"/>
<rect x="463.5" y="642.1" width="3.7" height="5.7" rx="1.2" fill="#000"/>
<path d="M461.0,645.2 A4.5,4.5 0 0 1 470.0,645.2" fill="none" stroke="#111" stroke-width="1.3"/>
<rect x="507" y="647" width="1" height="2" fill="#000"/>
<rect x="505.4" y="642.1" width="3.7" height="5.7" rx="1.2" fill="#000"/>
<path d="M502.9,645.2 A4.5,4.5 0 0 1 511.9,645.2" fill="none" stroke="#111" stroke-width="1.3"/>
<rect x="549" y="647" width="1" height="2" fill="#000"/>
<rect x="547.3" y="642.1" width="3.7" height="5.7" rx="1.2" fill="#000"/>
<path d="M544.8,645.2 A4.5,4.5 0 0 1 553.8,645.2" fill="none" stroke="#111" stroke-width="1.3"/>
<text transform="translate(51.0 635.6) scale(0.82 1)" x="0" y="0" font-family='"Liberation Serif", serif' font-size="10.5" text-anchor="start" font-weight="normal" fill="#000" stroke="#000" stroke-width="0.25" >T2la</text>
<text transform="translate(51.0 645.1) scale(0.82 1)" x="0" y="0" font-family='"Liberation Serif", serif' font-size="10.5" text-anchor="start" font-weight="normal" fill="#000" stroke="#000" stroke-width="0.25" >/1</text>
<text transform="translate(92.9 635.6) scale(0.82 1)" x="0" y="0" font-family='"Liberation Serif", serif' font-size="10.5" text-anchor="start" font-weight="normal" fill="#000" stroke="#000" stroke-width="0.25" >T2la</text>
<text transform="translate(92.9 645.1) scale(0.82 1)" x="0" y="0" font-family='"Liberation Serif", serif' font-size="10.5" text-anchor="start" font-weight="normal" fill="#000" stroke="#000" stroke-width="0.25" >/2</text>
<text transform="translate(176.7 635.6) scale(0.82 1)" x="0" y="0" font-family='"Liberation Serif", serif' font-size="10.5" text-anchor="start" font-weight="normal" fill="#000" stroke="#000" stroke-width="0.25" >T2ra</text>
<text transform="translate(176.7 645.1) scale(0.82 1)" x="0" y="0" font-family='"Liberation Serif", serif' font-size="10.5" text-anchor="start" font-weight="normal" fill="#000" stroke="#000" stroke-width="0.25" >/1</text>
<text transform="translate(218.6 635.6) scale(0.82 1)" x="0" y="0" font-family='"Liberation Serif", serif' font-size="10.5" text-anchor="start" font-weight="normal" fill="#000" stroke="#000" stroke-width="0.25" >T2ra</text>
<text transform="translate(218.6 645.1) scale(0.82 1)" x="0" y="0" font-family='"Liberation Serif", serif' font-size="10.5" text-anchor="start" font-weight="normal" fill="#000" stroke="#000" stroke-width="0.25" >/2</text>
<text transform="translate(302.4 635.6) scale(0.82 1)" x="0" y="0" font-family='"Liberation Serif", serif' font-size="10.5" text-anchor="start" font-weight="normal" fill="#000" stroke="#000" stroke-width="0.25" >T73b</text>
<text transform="translate(302.4 645.1) scale(0.82 1)" x="0" y="0" font-family='"Liberation Serif", serif' font-size="10.5" text-anchor="start" font-weight="normal" fill="#000" stroke="#000" stroke-width="0.25" >/11</text>
<text transform="translate(344.3 635.6) scale(0.82 1)" x="0" y="0" font-family='"Liberation Serif", serif' font-size="10.5" text-anchor="start" font-weight="normal" fill="#000" stroke="#000" stroke-width="0.25" >T73a</text>
<text transform="translate(344.3 645.1) scale(0.82 1)" x="0" y="0" font-family='"Liberation Serif", serif' font-size="10.5" text-anchor="start" font-weight="normal" fill="#000" stroke="#000" stroke-width="0.25" >/19</text>
<text transform="translate(386.2 635.6) scale(0.82 1)" x="0" y="0" font-family='"Liberation Serif", serif' font-size="10.5" text-anchor="start" font-weight="normal" fill="#000" stroke="#000" stroke-width="0.25" >T32c</text>
<text transform="translate(386.2 645.1) scale(0.82 1)" x="0" y="0" font-family='"Liberation Serif", serif' font-size="10.5" text-anchor="start" font-weight="normal" fill="#000" stroke="#000" stroke-width="0.25" >/17</text>
<text transform="translate(470.0 635.6) scale(0.82 1)" x="0" y="0" font-family='"Liberation Serif", serif' font-size="10.5" text-anchor="start" font-weight="normal" fill="#000" stroke="#000" stroke-width="0.25" >T54</text>
<text transform="translate(470.0 645.1) scale(0.82 1)" x="0" y="0" font-family='"Liberation Serif", serif' font-size="10.5" text-anchor="start" font-weight="normal" fill="#000" stroke="#000" stroke-width="0.25" >/8</text>
<text transform="translate(511.9 635.6) scale(0.82 1)" x="0" y="0" font-family='"Liberation Serif", serif' font-size="10.5" text-anchor="start" font-weight="normal" fill="#000" stroke="#000" stroke-width="0.25" >T54</text>
<text transform="translate(511.9 645.1) scale(0.82 1)" x="0" y="0" font-family='"Liberation Serif", serif' font-size="10.5" text-anchor="start" font-weight="normal" fill="#000" stroke="#000" stroke-width="0.25" >/26</text>
<text transform="translate(553.8 635.6) scale(0.82 1)" x="0" y="0" font-family='"Liberation Serif", serif' font-size="10.5" text-anchor="start" font-weight="normal" fill="#000" stroke="#000" stroke-width="0.25" >T54b</text>
<text transform="translate(553.8 645.1) scale(0.82 1)" x="0" y="0" font-family='"Liberation Serif", serif' font-size="10.5" text-anchor="start" font-weight="normal" fill="#000" stroke="#000" stroke-width="0.25" >/14</text>
<text transform="translate(59.3 695.7) scale(0.88 1)" x="0" y="0" font-family='"Liberation Serif", serif' font-size="13.5" text-anchor="start" font-weight="normal" fill="#000" stroke="#000" stroke-width="0.25" text-rendering="geometricPrecision">G</text>
<text transform="translate(67.8 695.7) scale(0.92 1)" x="0" y="0" font-family='"Liberation Serif", serif' font-size="9.6" text-anchor="start" font-weight="normal" fill="#000" stroke="#000" stroke-width="0.25" >179</text>
<text transform="translate(184.5 695.7) scale(0.88 1)" x="0" y="0" font-family='"Liberation Serif", serif' font-size="13.5" text-anchor="start" font-weight="normal" fill="#000" stroke="#000" stroke-width="0.25" text-rendering="geometricPrecision">G</text>
<text transform="translate(193.3 695.7) scale(0.92 1)" x="0" y="0" font-family='"Liberation Serif", serif' font-size="9.6" text-anchor="start" font-weight="normal" fill="#000" stroke="#000" stroke-width="0.25" >180</text>
<text transform="translate(314.0 695.7) scale(0.88 1)" x="0" y="0" font-family='"Liberation Serif", serif' font-size="13.5" text-anchor="start" font-weight="normal" fill="#000" stroke="#000" stroke-width="0.25" text-rendering="geometricPrecision">J</text>
<text transform="translate(318.6 695.7) scale(0.92 1)" x="0" y="0" font-family='"Liberation Serif", serif' font-size="9.6" text-anchor="start" font-weight="normal" fill="#000" stroke="#000" stroke-width="0.25" >519</text>
<text transform="translate(377.0 695.7) scale(0.88 1)" x="0" y="0" font-family='"Liberation Serif", serif' font-size="13.5" text-anchor="start" font-weight="normal" fill="#000" stroke="#000" stroke-width="0.25" text-rendering="geometricPrecision">J</text>
<text transform="translate(381.7 695.7) scale(0.92 1)" x="0" y="0" font-family='"Liberation Serif", serif' font-size="9.6" text-anchor="start" font-weight="normal" fill="#000" stroke="#000" stroke-width="0.25" >393</text>
<text transform="translate(503.0 694.9) scale(0.88 1)" x="0" y="0" font-family='"Liberation Serif", serif' font-size="13.5" text-anchor="start" font-weight="normal" fill="#000" stroke="#000" stroke-width="0.25" text-rendering="geometricPrecision">J</text>
<text transform="translate(507.4 694.9) scale(0.92 1)" x="0" y="0" font-family='"Liberation Serif", serif' font-size="9.6" text-anchor="start" font-weight="normal" fill="#000" stroke="#000" stroke-width="0.25" >533</text>
<rect x="25" y="725" width="588" height="1" fill="#000"/>
<text transform="translate(45 741) scale(0.85 1)" x="0" y="0" font-family='"Liberation Serif", serif' font-size="10" text-anchor="middle" font-weight="bold" fill="#000" >113</text>
<text transform="translate(87 741) scale(0.85 1)" x="0" y="0" font-family='"Liberation Serif", serif' font-size="10" text-anchor="middle" font-weight="bold" fill="#000" >114</text>
<text transform="translate(129 741) scale(0.85 1)" x="0" y="0" font-family='"Liberation Serif", serif' font-size="10" text-anchor="middle" font-weight="bold" fill="#000" >115</text>
<text transform="translate(171 741) scale(0.85 1)" x="0" y="0" font-family='"Liberation Serif", serif' font-size="10" text-anchor="middle" font-weight="bold" fill="#000" >116</text>
<text transform="translate(213 741) scale(0.85 1)" x="0" y="0" font-family='"Liberation Serif", serif' font-size="10" text-anchor="middle" font-weight="bold" fill="#000" >117</text>
<text transform="translate(255 741) scale(0.85 1)" x="0" y="0" font-family='"Liberation Serif", serif' font-size="10" text-anchor="middle" font-weight="bold" fill="#000" >118</text>
<text transform="translate(297 741) scale(0.85 1)" x="0" y="0" font-family='"Liberation Serif", serif' font-size="10" text-anchor="middle" font-weight="bold" fill="#000" >119</text>
<text transform="translate(339 741) scale(0.85 1)" x="0" y="0" font-family='"Liberation Serif", serif' font-size="10" text-anchor="middle" font-weight="bold" fill="#000" >120</text>
<text transform="translate(381 741) scale(0.85 1)" x="0" y="0" font-family='"Liberation Serif", serif' font-size="10" text-anchor="middle" font-weight="bold" fill="#000" >121</text>
<text transform="translate(423 741) scale(0.85 1)" x="0" y="0" font-family='"Liberation Serif", serif' font-size="10" text-anchor="middle" font-weight="bold" fill="#000" >122</text>
<text transform="translate(464.5 741) scale(0.85 1)" x="0" y="0" font-family='"Liberation Serif", serif' font-size="10" text-anchor="middle" font-weight="bold" fill="#000" >123</text>
<text transform="translate(506 741) scale(0.85 1)" x="0" y="0" font-family='"Liberation Serif", serif' font-size="10" text-anchor="middle" font-weight="bold" fill="#000" >124</text>
<text transform="translate(548 741) scale(0.85 1)" x="0" y="0" font-family='"Liberation Serif", serif' font-size="10" text-anchor="middle" font-weight="bold" fill="#000" >125</text>
<text transform="translate(590 741) scale(0.85 1)" x="0" y="0" font-family='"Liberation Serif", serif' font-size="10" text-anchor="middle" font-weight="bold" fill="#000" >126</text>
<path d="M540.5,758 L540.5,751.5 L612.5,751.5 L612.5,758" fill="none" stroke="#000" stroke-width="1"/>
<svg x="541" y="752" width="71" height="6" overflow="hidden"><text transform="translate(34.7 7.5) scale(0.86 1)" font-family='"Liberation Serif", serif' font-size="10.5" text-anchor="middle" fill="#334" stroke="#334" stroke-width="0.2">8WH-057100521</text></svg>
<text x="645" y="581.8" font-family='"Liberation Sans", sans-serif' font-size="12.4" text-anchor="start" font-weight="normal" fill="#111" stroke="#111" stroke-width="0.15" >ws</text>
<text x="675.5" y="581.8" font-family='"Liberation Sans", sans-serif' font-size="12.4" text-anchor="start" font-weight="normal" fill="#111" stroke="#111" stroke-width="0.15" >=</text>
<text x="692" y="581.8" font-family='"Liberation Sans", sans-serif' font-size="12.4" text-anchor="start" font-weight="normal" fill="#111" stroke="#111" stroke-width="0.15" >white</text>
<text x="645" y="596.4699999999999" font-family='"Liberation Sans", sans-serif' font-size="12.4" text-anchor="start" font-weight="normal" fill="#111" stroke="#111" stroke-width="0.15" >sw</text>
<text x="675.5" y="596.4699999999999" font-family='"Liberation Sans", sans-serif' font-size="12.4" text-anchor="start" font-weight="normal" fill="#111" stroke="#111" stroke-width="0.15" >=</text>
<text x="692" y="596.4699999999999" font-family='"Liberation Sans", sans-serif' font-size="12.4" text-anchor="start" font-weight="normal" fill="#111" stroke="#111" stroke-width="0.15" >black</text>
<text x="645" y="611.14" font-family='"Liberation Sans", sans-serif' font-size="12.4" text-anchor="start" font-weight="normal" fill="#111" stroke="#111" stroke-width="0.15" >ro</text>
<text x="675.5" y="611.14" font-family='"Liberation Sans", sans-serif' font-size="12.4" text-anchor="start" font-weight="normal" fill="#111" stroke="#111" stroke-width="0.15" >=</text>
<text x="692" y="611.14" font-family='"Liberation Sans", sans-serif' font-size="12.4" text-anchor="start" font-weight="normal" fill="#111" stroke="#111" stroke-width="0.15" >red</text>
<text x="645" y="625.81" font-family='"Liberation Sans", sans-serif' font-size="12.4" text-anchor="start" font-weight="normal" fill="#111" stroke="#111" stroke-width="0.15" >rt</text>
<text x="675.5" y="625.81" font-family='"Liberation Sans", sans-serif' font-size="12.4" text-anchor="start" font-weight="normal" fill="#111" stroke="#111" stroke-width="0.15" >=</text>
<text x="692" y="625.81" font-family='"Liberation Sans", sans-serif' font-size="12.4" text-anchor="start" font-weight="normal" fill="#111" stroke="#111" stroke-width="0.15" >red</text>
<text x="645" y="640.4799999999999" font-family='"Liberation Sans", sans-serif' font-size="12.4" text-anchor="start" font-weight="normal" fill="#111" stroke="#111" stroke-width="0.15" >br</text>
<text x="675.5" y="640.4799999999999" font-family='"Liberation Sans", sans-serif' font-size="12.4" text-anchor="start" font-weight="normal" fill="#111" stroke="#111" stroke-width="0.15" >=</text>
<text x="692" y="640.4799999999999" font-family='"Liberation Sans", sans-serif' font-size="12.4" text-anchor="start" font-weight="normal" fill="#111" stroke="#111" stroke-width="0.15" >brown</text>
<text x="645" y="655.15" font-family='"Liberation Sans", sans-serif' font-size="12.4" text-anchor="start" font-weight="normal" fill="#111" stroke="#111" stroke-width="0.15" >gn</text>
<text x="675.5" y="655.15" font-family='"Liberation Sans", sans-serif' font-size="12.4" text-anchor="start" font-weight="normal" fill="#111" stroke="#111" stroke-width="0.15" >=</text>
<text x="692" y="655.15" font-family='"Liberation Sans", sans-serif' font-size="12.4" text-anchor="start" font-weight="normal" fill="#111" stroke="#111" stroke-width="0.15" >green</text>
<text x="645" y="669.8199999999999" font-family='"Liberation Sans", sans-serif' font-size="12.4" text-anchor="start" font-weight="normal" fill="#111" stroke="#111" stroke-width="0.15" >bl</text>
<text x="675.5" y="669.8199999999999" font-family='"Liberation Sans", sans-serif' font-size="12.4" text-anchor="start" font-weight="normal" fill="#111" stroke="#111" stroke-width="0.15" >=</text>
<text x="692" y="669.8199999999999" font-family='"Liberation Sans", sans-serif' font-size="12.4" text-anchor="start" font-weight="normal" fill="#111" stroke="#111" stroke-width="0.15" >blue</text>
<text x="645" y="684.49" font-family='"Liberation Sans", sans-serif' font-size="12.4" text-anchor="start" font-weight="normal" fill="#111" stroke="#111" stroke-width="0.15" >gr</text>
<text x="675.5" y="684.49" font-family='"Liberation Sans", sans-serif' font-size="12.4" text-anchor="start" font-weight="normal" fill="#111" stroke="#111" stroke-width="0.15" >=</text>
<text x="692" y="684.49" font-family='"Liberation Sans", sans-serif' font-size="12.4" text-anchor="start" font-weight="normal" fill="#111" stroke="#111" stroke-width="0.15" >grey</text>
<text x="645" y="699.16" font-family='"Liberation Sans", sans-serif' font-size="12.4" text-anchor="start" font-weight="normal" fill="#111" stroke="#111" stroke-width="0.15" >li</text>
<text x="675.5" y="699.16" font-family='"Liberation Sans", sans-serif' font-size="12.4" text-anchor="start" font-weight="normal" fill="#111" stroke="#111" stroke-width="0.15" >=</text>
<text x="692" y="699.16" font-family='"Liberation Sans", sans-serif' font-size="12.4" text-anchor="start" font-weight="normal" fill="#111" stroke="#111" stroke-width="0.15" >lilac</text>
<text x="645" y="713.8299999999999" font-family='"Liberation Sans", sans-serif' font-size="12.4" text-anchor="start" font-weight="normal" fill="#111" stroke="#111" stroke-width="0.15" >vi</text>
<text x="675.5" y="713.8299999999999" font-family='"Liberation Sans", sans-serif' font-size="12.4" text-anchor="start" font-weight="normal" fill="#111" stroke="#111" stroke-width="0.15" >=</text>
<text x="692" y="713.8299999999999" font-family='"Liberation Sans", sans-serif' font-size="12.4" text-anchor="start" font-weight="normal" fill="#111" stroke="#111" stroke-width="0.15" >lilac</text>
<text x="645" y="728.5" font-family='"Liberation Sans", sans-serif' font-size="12.4" text-anchor="start" font-weight="normal" fill="#111" stroke="#111" stroke-width="0.15" >ge</text>
<text x="675.5" y="728.5" font-family='"Liberation Sans", sans-serif' font-size="12.4" text-anchor="start" font-weight="normal" fill="#111" stroke="#111" stroke-width="0.15" >=</text>
<text x="692" y="728.5" font-family='"Liberation Sans", sans-serif' font-size="12.4" text-anchor="start" font-weight="normal" fill="#111" stroke="#111" stroke-width="0.15" >yellow</text>
<text x="645" y="743.17" font-family='"Liberation Sans", sans-serif' font-size="12.4" text-anchor="start" font-weight="normal" fill="#111" stroke="#111" stroke-width="0.15" >or</text>
<text x="675.5" y="743.17" font-family='"Liberation Sans", sans-serif' font-size="12.4" text-anchor="start" font-weight="normal" fill="#111" stroke="#111" stroke-width="0.15" >=</text>
<text x="692" y="743.17" font-family='"Liberation Sans", sans-serif' font-size="12.4" text-anchor="start" font-weight="normal" fill="#111" stroke="#111" stroke-width="0.15" >orange</text>
<text x="645" y="757.8399999999999" font-family='"Liberation Sans", sans-serif' font-size="12.4" text-anchor="start" font-weight="normal" fill="#111" stroke="#111" stroke-width="0.15" >rs</text>
<text x="675.5" y="757.8399999999999" font-family='"Liberation Sans", sans-serif' font-size="12.4" text-anchor="start" font-weight="normal" fill="#111" stroke="#111" stroke-width="0.15" >=</text>
<text x="692" y="757.8399999999999" font-family='"Liberation Sans", sans-serif' font-size="12.4" text-anchor="start" font-weight="normal" fill="#111" stroke="#111" stroke-width="0.15" >pink</text>
</svg>
</body></html>
